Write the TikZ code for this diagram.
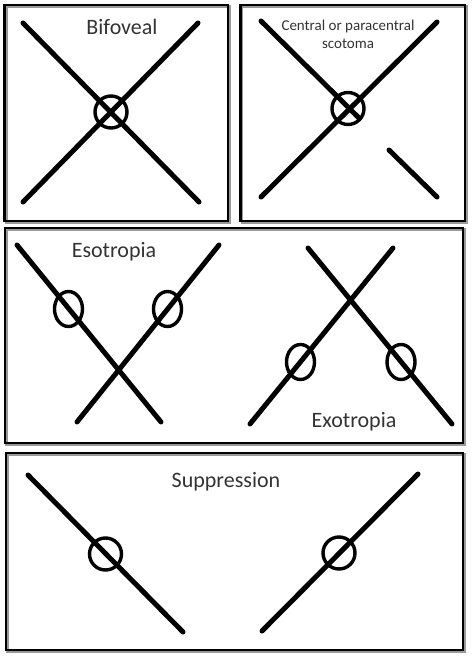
\documentclass[tikz,border=0pt]{standalone}
\usepackage{fontspec}
\setmainfont{Carlito}
\begin{document}
\begin{tikzpicture}[x=10pt, y=10pt]
\tikzstyle{panel}=[black, line width=2.6pt]
\tikzstyle{shade}=[black!40, line width=2.6pt]
\tikzstyle{ray}=[black, line width=5pt, line cap=round]
\tikzstyle{fovea}=[black, line width=3.4pt]
\tikzstyle{bigtext}=[text=black!80, inner sep=0pt, font=\fontsize{22}{24}\selectfont]
\tikzstyle{smalltext}=[text=black!80, inner sep=0pt, align=center, font=\fontsize{15}{18}\selectfont]
\useasboundingbox (0,0) rectangle (47.4,-66.1);
% panels
\draw [shade] (0.65,-0.65) rectangle (22.95,-22.25);
\draw [shade] (24.2,-0.65) rectangle (46.65,-22.25);
\draw [shade] (0.65,-22.95) rectangle (46.45,-44.45);
\draw [shade] (0.75,-45.45) rectangle (46.45,-65.15);
\draw [panel] (0.45,-0.5) rectangle (22.8,-22.1);
\draw [panel] (24.05,-0.5) rectangle (46.5,-22.1);
\draw [panel] (0.5,-22.8) rectangle (46.3,-44.3);
\draw [panel] (0.6,-45.3) rectangle (46.3,-65.0);
% bifoveal
\node [bigtext] (bifoveal) at (12.2,-2.7) {Bifoveal};
\coordinate (bi) at (11.1,-11.2);
\draw [ray] (2.3,-2.3) -- (19.9,-20.2);
\draw [ray] (19.8,-2.3) -- (2.3,-20.2);
\draw [fovea] (bi) circle (1.6);
% scotoma
\node [smalltext] (scotoma) at (34.8,-3.4) {Central or paracentral\\scotoma};
\coordinate (sc) at (34.8,-10.85);
\draw [ray] (26.1,-2.1) -- (35.9,-11.8);
\draw [ray] (43.7,-2.2) -- (26.1,-19.7);
\draw [ray] (38.9,-15.0) -- (43.7,-19.7);
\draw [fovea] (sc) circle (1.6);
% esotropia
\node [bigtext] (esotropia) at (11.4,-25.2) {Esotropia};
\coordinate (esoL) at (6.85,-30.9);
\coordinate (esoR) at (16.75,-30.9);
\draw [ray] (1.7,-24.5) -- (16.1,-42.2);
\draw [ray] (21.9,-24.5) -- (7.7,-42.2);
\draw [fovea] (esoL) ellipse (1.4 and 1.75);
\draw [fovea] (esoR) ellipse (1.4 and 1.75);
% exotropia
\node [bigtext] (exotropia) at (35.4,-42.2) {Exotropia};
\coordinate (exoL) at (30.05,-36.2);
\coordinate (exoR) at (40.1,-36.2);
\draw [ray] (30.8,-24.8) -- (45.2,-42.4);
\draw [ray] (39.3,-24.8) -- (25.0,-42.4);
\draw [fovea] (exoL) ellipse (1.4 and 1.75);
\draw [fovea] (exoR) ellipse (1.4 and 1.75);
% suppression
\node [bigtext] (suppression) at (22.6,-48.2) {Suppression};
\coordinate (supL) at (10.55,-55.4);
\coordinate (supR) at (33.9,-55.3);
\draw [ray] (2.8,-47.5) -- (18.3,-63.2);
\draw [ray] (41.8,-47.4) -- (26.2,-63.1);
\draw [fovea] (supL) circle (1.6);
\draw [fovea] (supR) circle (1.6);
\end{tikzpicture}
\end{document}
